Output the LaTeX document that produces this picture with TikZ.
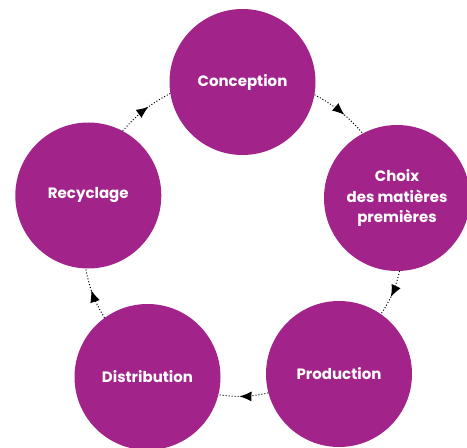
\documentclass[tikz,border=0pt]{standalone}
\usepackage{fontspec}
\setmainfont{Poppins}
\usetikzlibrary{arrows.meta,decorations.markings}
\definecolor{plum}{HTML}{A2248B}
\tikzset{
  stage/.style={circle, fill=plum, minimum size=146pt, inner sep=0pt,
    text=white, font=\fontsize{15}{20.5}\selectfont\bfseries, align=center},
  link/.style={draw=black, line width=1pt, dotted, bend left=10,
    postaction={decorate},
    decoration={markings, mark=at position 0.58 with {\arrow[solid]{Latex[length=12pt,width=10pt]}}}}
}
\begin{document}
\begin{tikzpicture}[x=1pt,y=1pt]
\useasboundingbox (0,0) rectangle (467,448);
\node[stage] (conc) at (242.5,366) {Conception};
\node[stage, yshift=-3pt] (choix) at (397,253) {Choix\\des matières\\premières};
\node[stage, yshift=2pt] (prod) at (339,72) {Production};
\node[stage] (dist) at (147.5,71) {Distribution};
\node[stage] (recy) at (88.3,252.5) {Recyclage};
\draw[link] (conc.-10) to (choix.118);
\draw[link] (choix.-88) to (prod.55);
\draw[link] (prod.-165) to (dist.-14);
\draw[link] (dist.126) to (recy.-92);
\draw[link] (recy.62) to (conc.189);
\end{tikzpicture}
\end{document}
